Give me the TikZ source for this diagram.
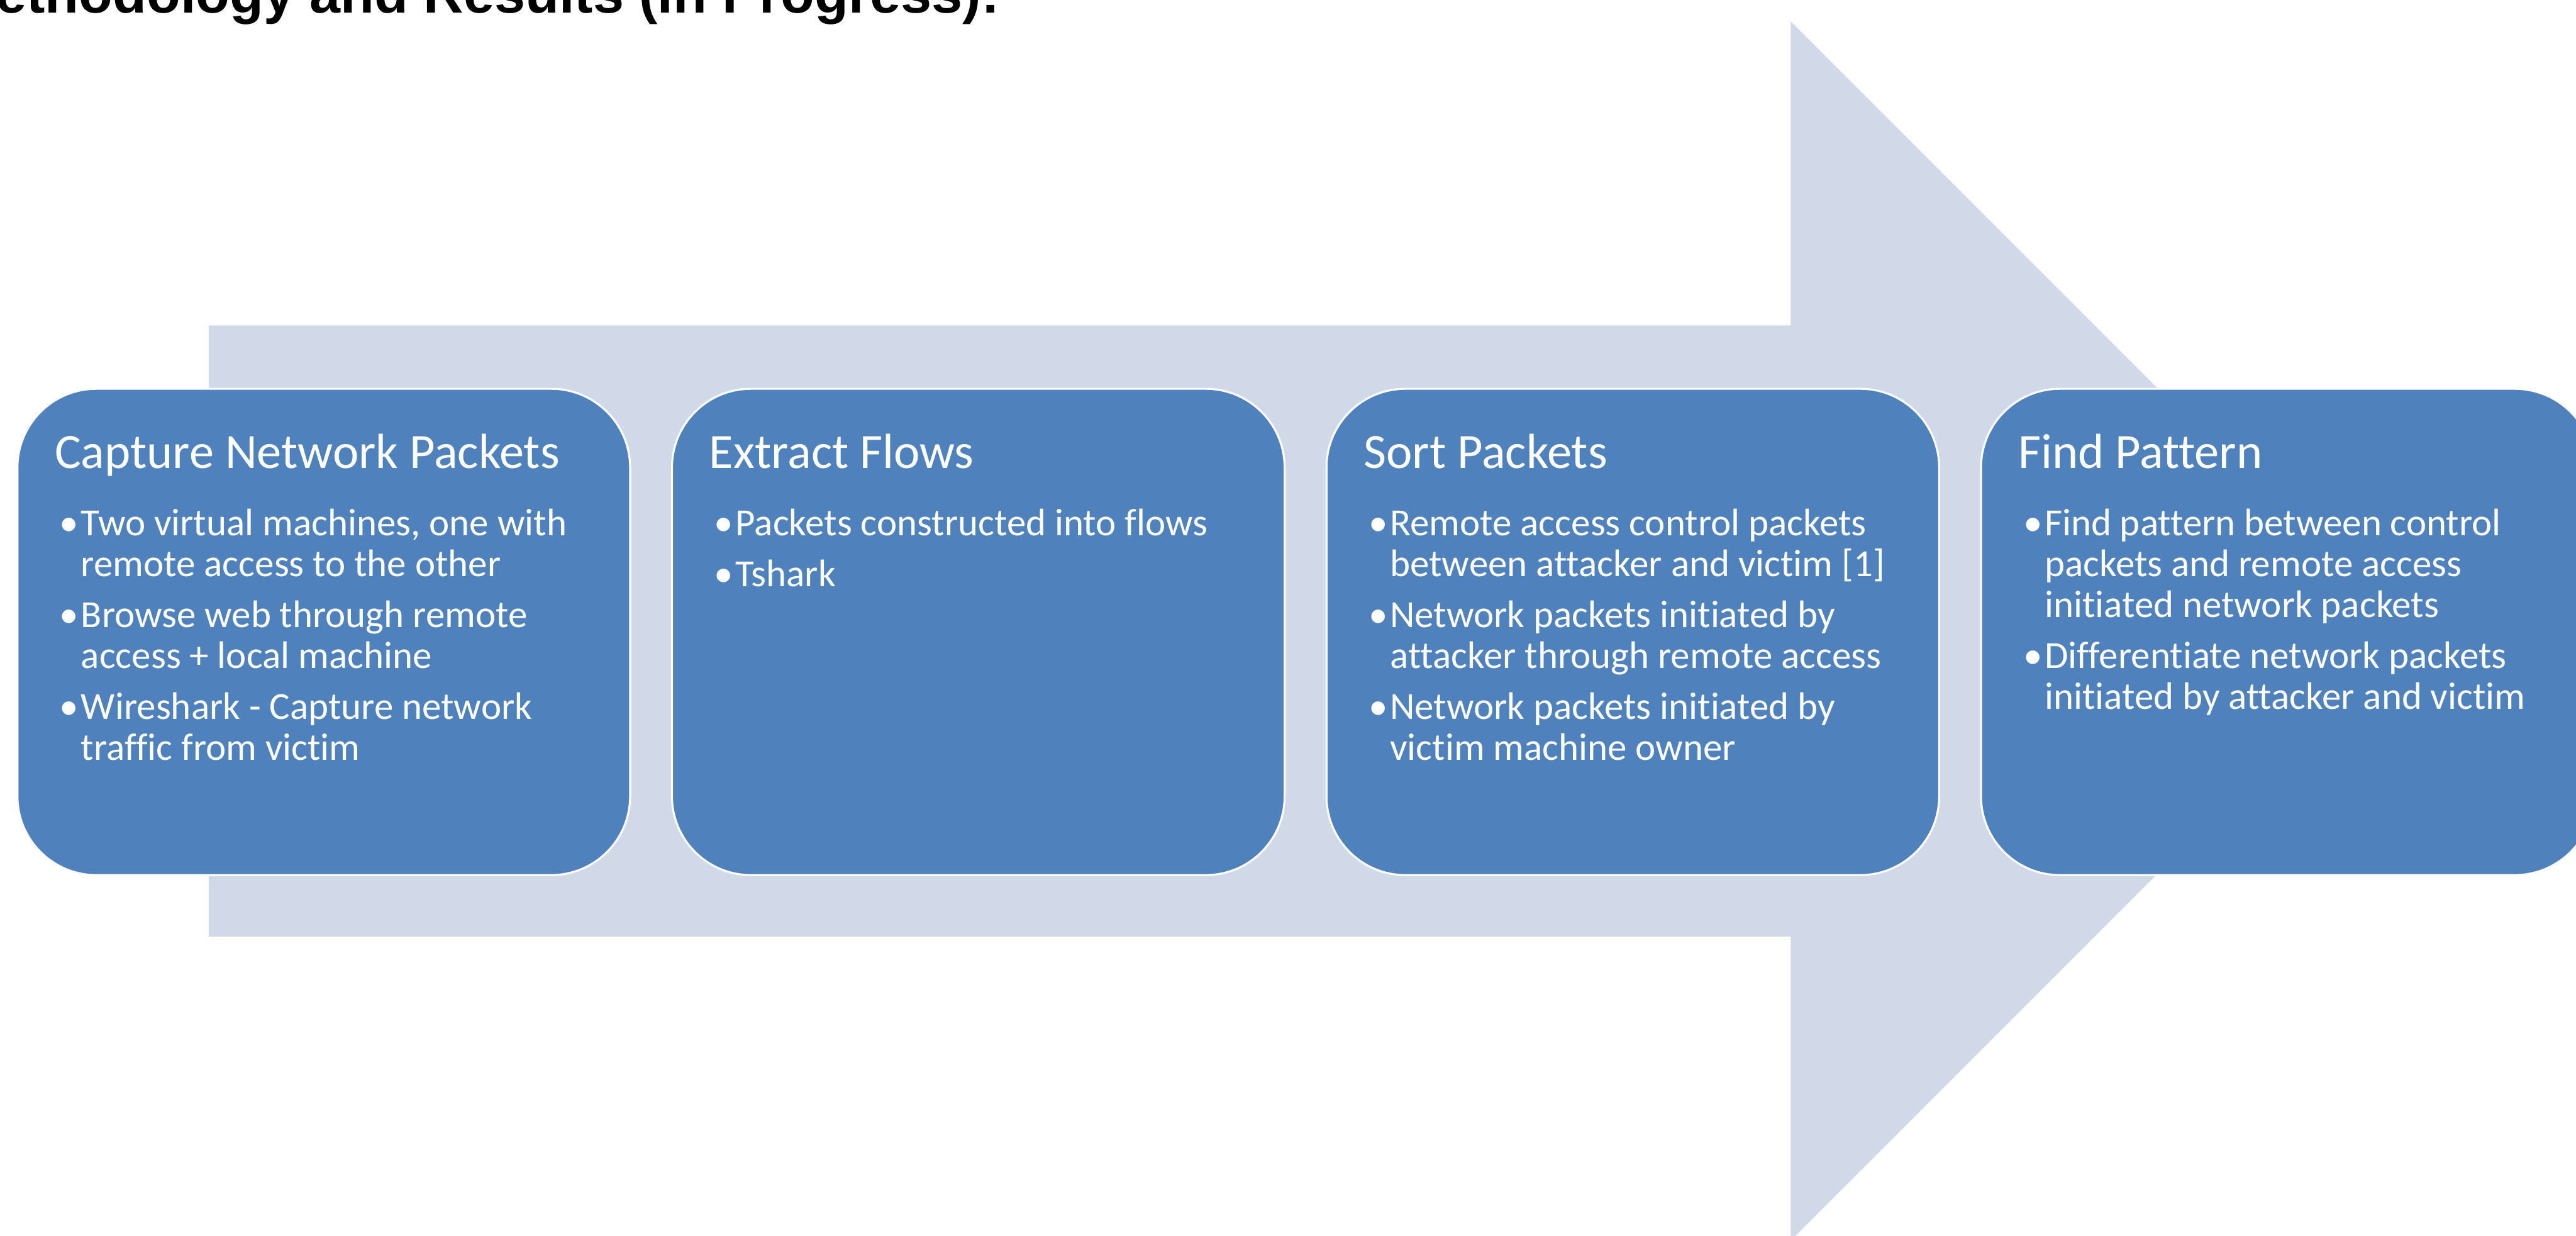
\documentclass[tikz,border=0pt]{standalone}
\usepackage{fontspec}
\setmainfont{Carlito}[Ligatures=NoCommon]
\newfontfamily\headfont{Liberation Sans}
\usetikzlibrary{positioning}
\definecolor{stageblue}{HTML}{4F81BD}
\definecolor{arrowgrey}{HTML}{D1D8E8}
\newenvironment{stagelist}{\begin{tabular}[t]{@{}p{0.26cm}@{}l@{}}}{\end{tabular}}
\tikzset{
  stage/.style={draw=white,line width=0.7pt,fill=stageblue,rounded corners=0.96cm,
               minimum width=7.46cm,minimum height=5.92cm,inner sep=0pt},
  stagehead/.style={anchor=base west,text=white,inner sep=0pt,
               font=\fontsize{17.1}{20}\selectfont},
  stagebody/.style={anchor=base west,text=white,inner sep=0pt,
               font=\fontsize{13.3}{14.2}\selectfont},
}

\begin{document}
\begin{tikzpicture}[x=0.02cm,y=-0.02cm]
  \useasboundingbox (0,0) rectangle (1568,752);
  \node[anchor=base west,inner sep=0pt,font=\headfont\bfseries\fontsize{19.2}{23}\selectfont]
        (title) at (-31,8) {Methodology and Results (In Progress):};
  % big arrow behind the stages
  \fill[arrowgrey] (127,198) -- (1090,198) -- (1090,13) -- (1461,384)
        -- (1090,755) -- (1090,570) -- (127,570) -- cycle;
  \node[stage,anchor=north west] (capture) at (10,236) {};
  \node[stage,right=0.485cm of capture] (extract) {};
  \node[stage,right=0.485cm of extract] (sort) {};
  \node[stage,right=0.485cm of sort] (pattern) {};
  \node[stagehead] (capturehead) at ([shift={(23,49)}]capture.north west) {Capture Network Packets};
  \node[stagehead] (extracthead) at ([shift={(23,49)}]extract.north west) {Extract Flows};
  \node[stagehead] (sorthead) at ([shift={(23,49)}]sort.north west) {Sort Packets};
  \node[stagehead] (patternhead) at ([shift={(23,49)}]pattern.north west) {Find Pattern};
  \node[stagebody] (capturebody) at ([shift={(26,90)}]capture.north west)
        {\begin{stagelist}
         \textbullet & Two virtual machines, one with\\ & remote access to the other\\[0.12cm]
         \textbullet & Browse web through remote\\ & access + local machine\\[0.12cm]
         \textbullet & Wireshark - Capture network\\ & traffic from victim
         \end{stagelist}};
  \node[stagebody] (extractbody) at ([shift={(26,90)}]extract.north west)
        {\begin{stagelist}
         \textbullet & Packets constructed into flows\\[0.12cm]
         \textbullet & Tshark
         \end{stagelist}};
  \node[stagebody] (sortbody) at ([shift={(26,90)}]sort.north west)
        {\begin{stagelist}
         \textbullet & Remote access control packets\\ & between attacker and victim [1]\\[0.12cm]
         \textbullet & Network packets initiated by\\ & attacker through remote access\\[0.12cm]
         \textbullet & Network packets initiated by\\ & victim machine owner
         \end{stagelist}};
  \node[stagebody] (patternbody) at ([shift={(26,90)}]pattern.north west)
        {\begin{stagelist}
         \textbullet & Find pattern between control\\ & packets and remote access\\ & initiated network packets\\[0.12cm]
         \textbullet & Differentiate network packets\\ & initiated by attacker and victim
         \end{stagelist}};
\end{tikzpicture}
\end{document}
